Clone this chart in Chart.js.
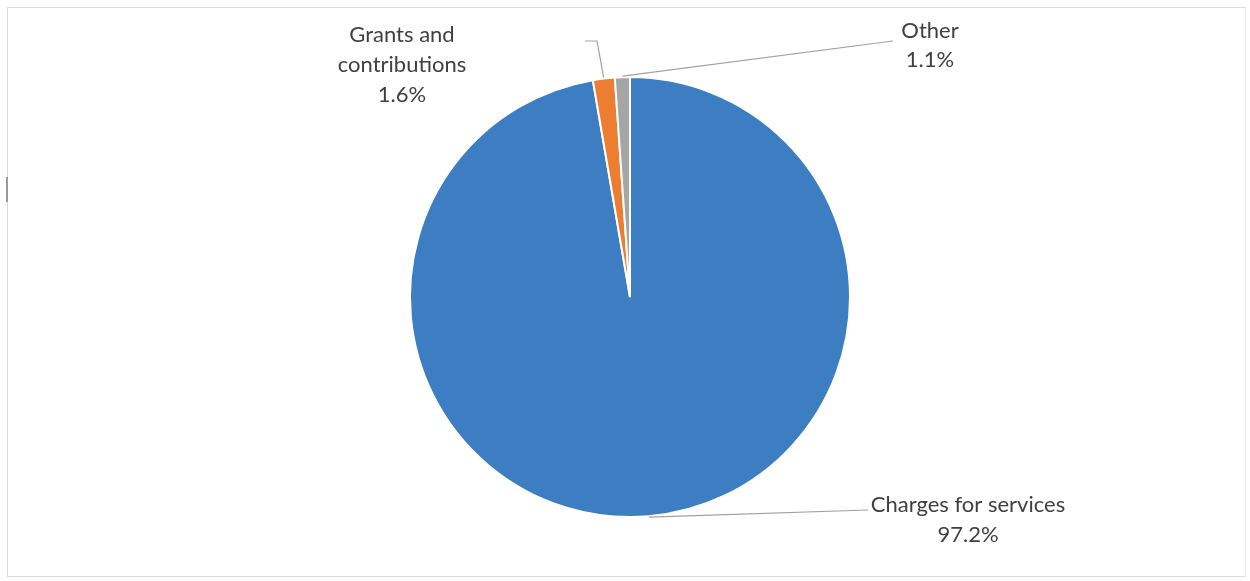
<!DOCTYPE html>
<html>
<head>
<meta charset="utf-8">
<script src="https://cdn.jsdelivr.net/npm/chart.js@4.4.1/dist/chart.umd.min.js"></script>
<style>
	html, body { margin: 0; padding: 0; background: #ffffff; }
	#wrap { position: relative; width: 1250px; height: 581px; }
	#frame {
		position: absolute; left: 7px; top: 7px; width: 1239px; height: 570px;
		border: 1px solid #dcdcdc; border-right-color: #f0f0f0; box-sizing: border-box; pointer-events: none;
	}
	#tick {
		position: absolute; left: 6px; top: 177px; width: 2px; height: 25px;
		background: #9a9a9a;
	}
	canvas { position: absolute; left: 0; top: 0; }
</style>
</head>
<body>
<div id="wrap">
	<canvas id="pie" width="1250" height="581"></canvas>
	<div id="frame"></div>
	<div id="tick"></div>
</div>
<script>
	'use strict';

	// Chart data
	const categories = ['Charges for services', 'Grants and contributions', 'Other'];
	const shares = [97.2, 1.6, 1.1];
	const sliceColors = ['#3d7dc1', '#ed7d31', '#a5a5a5'];

	// Label text lines per slice
	const labelLines = [
		['Charges for services', '97.2%'],
		['Grants and', 'contributions', '1.6%'],
		['Other', '1.1%']
	];

	// Label layout (centre of first text line, line height) and leader bends
	const labelLayout = [
		{ x: 968, y: 505, lh: 30, path: [[868, 510]] },
		{ x: 402, y: 35, lh: 30, path: [[597, 41], [585, 41]] },
		{ x: 930, y: 31, lh: 29, path: [[893, 41]] }
	];

	/**
	 * Draw the Excel-style outside labels with leader lines
	 */
	const outsideLabels = {
		id: 'outsideLabels',
		afterDatasetsDraw: function(chart) {
			const ctx = chart.ctx;
			const arcs = chart.getDatasetMeta(0).data;

			ctx.save();
			arcs.forEach(function(arc, i) {
				const p = arc.getProps(['x', 'y', 'startAngle', 'endAngle', 'outerRadius'], true);
				const mid = (p.startAngle + p.endAngle) / 2;
				const r = p.outerRadius + 1;
				const sx = p.x + Math.cos(mid) * r;
				const sy = p.y + Math.sin(mid) * r;

				// leader line
				ctx.strokeStyle = '#a0a0a0';
				ctx.lineWidth = 1.2;
				ctx.beginPath();
				ctx.moveTo(sx, sy);
				labelLayout[i].path.forEach(function(pt) {
					ctx.lineTo(pt[0], pt[1]);
				});
				ctx.stroke();

				// text
				ctx.fillStyle = '#404040';
				ctx.font = '22px Lato, "Open Sans", sans-serif';
				ctx.textAlign = 'center';
				ctx.textBaseline = 'middle';
				labelLines[i].forEach(function(line, k) {
					ctx.fillText(line, labelLayout[i].x, labelLayout[i].y + k * labelLayout[i].lh);
				});
			});
			ctx.restore();
		}
	};

	function initChart() {
		if (typeof Chart === 'undefined') {
			console.error('Chart.js is not loaded.');
			return;
		}

		const ctx = document.getElementById('pie').getContext('2d');

		new Chart(ctx, {
			type: 'pie',
			data: {
				labels: categories,
				datasets: [{
					data: shares,
					backgroundColor: sliceColors,
					borderColor: '#ffffff',
					borderWidth: 2
				}]
			},
			options: {
				responsive: false,
				animation: false,
				rotation: 0,
				layout: {
					padding: { top: 76, bottom: 63, left: 10, right: 0 }
				},
				plugins: {
					legend: { display: false },
					tooltip: { enabled: false },
					title: { display: false }
				}
			},
			plugins: [outsideLabels]
		});
	}

	initChart();
</script>
</body>
</html>
